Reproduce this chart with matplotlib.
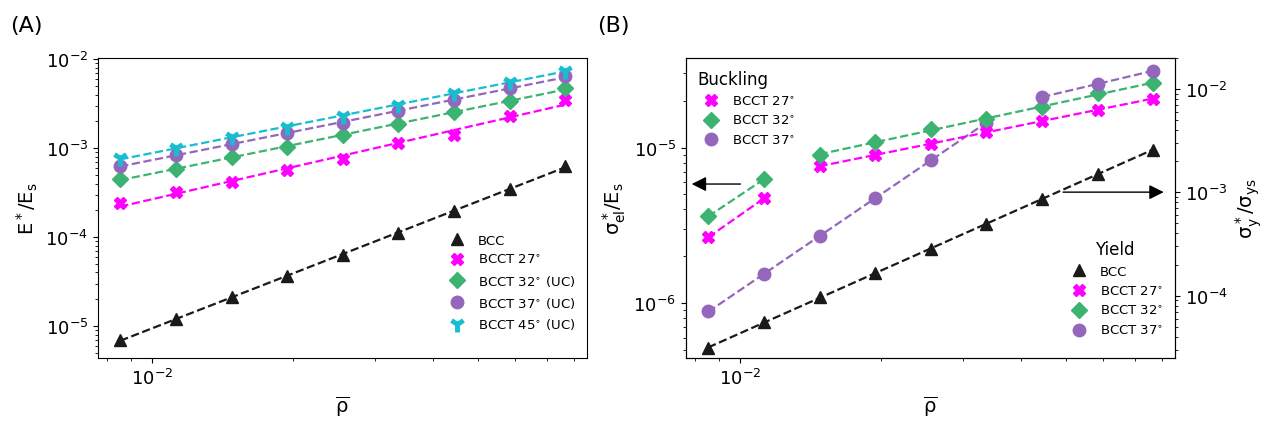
import numpy as np
import matplotlib
matplotlib.use("Agg")
import matplotlib.pyplot as plt
from matplotlib.ticker import NullFormatter

plt.rcParams["font.family"] = ["DejaVu Sans"]
plt.rcParams["mathtext.fontset"] = "dejavusans"

# ── Data ──────────────────────────────────────────────────
rho = [0.00855, 0.01125, 0.0148, 0.0195, 0.0256, 0.0337, 0.0444, 0.0584, 0.0768]

# (A) stiffness
E_bcc = [7.0e-6, 1.2e-5, 2.1e-5, 3.6e-5, 6.3e-5, 1.12e-4, 1.98e-4, 3.45e-4, 6.3e-4]
E_27 = [2.39e-4, 3.18e-4, 4.18e-4, 5.70e-4, 7.52e-4, 1.14e-3, 1.41e-3, 2.31e-3, 3.49e-3]
E_32 = [4.49e-4, 5.81e-4, 7.87e-4, 1.04e-3, 1.40e-3, 1.86e-3, 2.52e-3, 3.40e-3, 4.69e-3]
E_37 = [6.32e-4, 8.34e-4, 1.11e-3, 1.46e-3, 1.94e-3, 2.62e-3, 3.49e-3, 4.69e-3, 6.40e-3]
E_45 = [7.66e-4, 9.93e-4, 1.32e-3, 1.73e-3, 2.31e-3, 3.04e-3, 4.15e-3, 5.56e-3, 7.39e-3]

# (B) buckling (left axis)
rho_bk = [0.00855, 0.01125]
bk_27 = [2.65e-6, 4.71e-6]
bk_32 = [3.61e-6, 6.26e-6]
rho_bk37 = [0.00855, 0.01125, 0.0148, 0.0195, 0.0256, 0.0337]
bk_37 = [8.86e-7, 1.53e-6, 2.69e-6, 4.71e-6, 8.31e-6, 1.45e-5]

# (B) yield (right axis)
y_bcc = [3.13e-5, 5.50e-5, 9.62e-5, 1.65e-4, 2.86e-4, 4.93e-4, 8.65e-4, 1.51e-3, 2.60e-3]
rho_y = [0.0148, 0.0195, 0.0256, 0.0337, 0.0444, 0.0584, 0.0768]
y_27 = [1.79e-3, 2.29e-3, 2.97e-3, 3.86e-3, 4.91e-3, 6.28e-3, 8.11e-3]
y_32 = [2.32e-3, 3.06e-3, 4.07e-3, 5.18e-3, 6.71e-3, 9.08e-3, 1.14e-2]
rho_y37 = [0.0444, 0.0584, 0.0768]
y_37 = [8.41e-3, 1.12e-2, 1.51e-2]

C_BCC = "#1a1a1a"
C_27 = "#ff00ff"
C_32 = "#3cb371"
C_37 = "#9467bd"
C_45 = "#17becf"

DEG = "$^{\\circ}$"


def series(ax, x, y, color, marker, label=None, ms=9, mew=1.0):
    """Power-law fit drawn dashed, markers on top."""
    lx, ly = np.log10(x), np.log10(y)
    k, b = np.polyfit(lx, ly, 1)
    xf = np.array([x[0], x[-1]])
    ax.plot(xf, 10 ** (k * np.log10(xf) + b), "--", color=color, lw=1.6, zorder=2)
    ax.plot(x, y, linestyle="none", marker=marker, color=color, ms=ms,
            mew=mew, label=label, zorder=3)


def style_log(ax):
    ax.set_xscale("log")
    ax.set_yscale("log")
    ax.set_xlim(0.00766, 0.0856)
    ax.xaxis.set_minor_formatter(NullFormatter())
    ax.tick_params(labelsize=13)


fig = plt.figure(figsize=(12.81, 4.31), dpi=100)
axA = fig.add_axes([0.0765, 0.167, 0.382, 0.696])
axB = fig.add_axes([0.5355, 0.167, 0.382, 0.696])

# ── Panel A ───────────────────────────────────────────────
style_log(axA)
series(axA, rho, E_bcc, C_BCC, "^", "BCC")
series(axA, rho, E_27, C_27, "X", "BCCT 27" + DEG)
series(axA, rho, E_32, C_32, "D", "BCCT 32" + DEG + " (UC)", ms=8)
series(axA, rho, E_37, C_37, "o", "BCCT 37" + DEG + " (UC)")
series(axA, rho, E_45, C_45, "1", "BCCT 45" + DEG + " (UC)", ms=11, mew=3.5)
axA.set_ylim(4.36e-6, 1.03e-2)
axA.set_xlabel(r"$\mathregular{\overline{\rho}}$", fontsize=14)
axA.set_ylabel(r"$\mathregular{E^*/E_s}$", fontsize=14)
axA.legend(loc="lower right", bbox_to_anchor=(1.0, 0.05), frameon=False,
           fontsize=9.5, handletextpad=0.6, labelspacing=0.5)

# ── Panel B ───────────────────────────────────────────────
style_log(axB)
axR = axB.twinx()
axR.set_yscale("log")
axR.tick_params(labelsize=13)

series(axB, rho_bk, bk_27, C_27, "X", "BCCT 27" + DEG)
series(axB, rho_bk, bk_32, C_32, "D", "BCCT 32" + DEG, ms=8)
series(axB, rho_bk37, bk_37, C_37, "o", "BCCT 37" + DEG)

series(axR, rho, y_bcc, C_BCC, "^", "BCC")
series(axR, rho_y, y_27, C_27, "X", "BCCT 27" + DEG)
series(axR, rho_y, y_32, C_32, "D", "BCCT 32" + DEG, ms=8)
series(axR, rho_y37, y_37, C_37, "o", "BCCT 37" + DEG)

axB.set_ylim(4.43e-7, 3.77e-5)
axR.set_ylim(2.49e-5, 2.0e-2)
axB.set_xlabel(r"$\mathregular{\overline{\rho}}$", fontsize=14)
axB.set_ylabel(r"$\mathregular{\sigma^*_{el}/E_s}$", fontsize=14)
axR.set_ylabel(r"$\mathregular{\sigma^*_{y}/\sigma_{ys}}$", fontsize=14)

legB = axB.legend(loc="upper left", frameon=False, fontsize=9.5,
                  title="Buckling", title_fontsize=12, alignment="left",
                  handletextpad=0.6, labelspacing=0.5)
axR.legend(loc="lower right", bbox_to_anchor=(1.0, 0.03), frameon=False,
           fontsize=9.5, title="Yield", title_fontsize=12,
           handletextpad=0.6, labelspacing=0.5)

# arrows pointing at the axis each group belongs to
arrow = dict(arrowstyle="-|>", color="k", lw=1.0, mutation_scale=22)
axB.annotate("", xy=(0.006, 0.58), xytext=(0.117, 0.58),
             xycoords="axes fraction", arrowprops=arrow)
axB.annotate("", xy=(0.982, 0.553), xytext=(0.765, 0.553),
             xycoords="axes fraction", arrowprops=arrow)

fig.text(0.008, 0.925, "(A)", fontsize=16)
fig.text(0.466, 0.925, "(B)", fontsize=16)

fig.savefig("out.png", dpi=100)
